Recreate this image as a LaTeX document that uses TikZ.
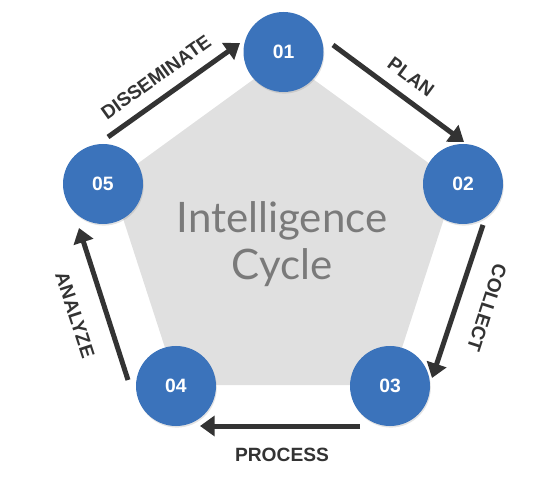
\documentclass[tikz,border=0pt]{standalone}
\usepackage{fontspec}
\setmainfont{Liberation Sans}
\newfontfamily\centerfont{Lato}
\usetikzlibrary{arrows.meta,shadows}
\definecolor{cblue}{HTML}{3B73BB}
\definecolor{pgray}{HTML}{E0E0E0}
\definecolor{adark}{HTML}{333333}
\definecolor{tgray}{HTML}{7A7A7A}
\tikzset{
  stepcircle/.style={circle, fill=cblue, minimum size=60pt, inner sep=0pt,
    text=white, font=\bfseries\fontsize{14.5}{17}\selectfont,
    drop shadow={opacity=0.22, shadow xshift=0.6pt, shadow yshift=-1.2pt}},
  cyclearrow/.style={draw=adark, line width=3.75pt,
    -{Triangle[length=11pt,width=15pt]}},
  steplabel/.style={text=adark, font=\bfseries\fontsize{14.4}{16}\selectfont, inner sep=0pt},
}
\begin{document}
\begin{tikzpicture}[x=0.75pt,y=-0.75pt]
\useasboundingbox (0,0) rectangle (560,484);
% pentagon
\fill[pgray] (283.5,57.6) -- (455.6,182.7) -- (389.9,385.0) -- (177.1,385.0) -- (111.4,182.7) -- cycle;
\node[text=tgray, font=\centerfont\fontsize{31.5}{36}\selectfont, align=center] (title) at (282,244)
  {Intelligence\\[-1pt]Cycle};
% arrow endpoints
\coordinate (d1) at (108,137); \coordinate (d2) at (240,43);
\coordinate (p1) at (333,45);  \coordinate (p2) at (464,142);
\coordinate (c1) at (483,225); \coordinate (c2) at (432,378);
\coordinate (r1) at (360,426); \coordinate (r2) at (200,426);
\coordinate (a1) at (128,380); \coordinate (a2) at (79,228);
\draw[cyclearrow] (d1) -- (d2);
\draw[cyclearrow] (p1) -- (p2);
\draw[cyclearrow] (c1) -- (c2);
\draw[cyclearrow] (r1) -- (r2);
\draw[cyclearrow] (a1) -- (a2);
% circles
\node[stepcircle] (s1) at (283.5,52) {01};
\node[stepcircle] (s2) at (463,184) {02};
\node[stepcircle] (s3) at (390,386) {03};
\node[stepcircle] (s4) at (176,386) {04};
\node[stepcircle] (s5) at (103,184) {05};
% labels
\node[steplabel, rotate=35.5] (ldis) at (156,77) {DISSEMINATE};
\node[steplabel, rotate=-36.4] (lplan) at (411,77) {PLAN};
\node[steplabel, rotate=-108] (lcol) at (487,308) {COLLECT};
\node[steplabel] (lproc) at (282,455) {PROCESS};
\node[steplabel, rotate=-72] (lana) at (75,315) {ANALYZE};
\end{tikzpicture}
\end{document}
